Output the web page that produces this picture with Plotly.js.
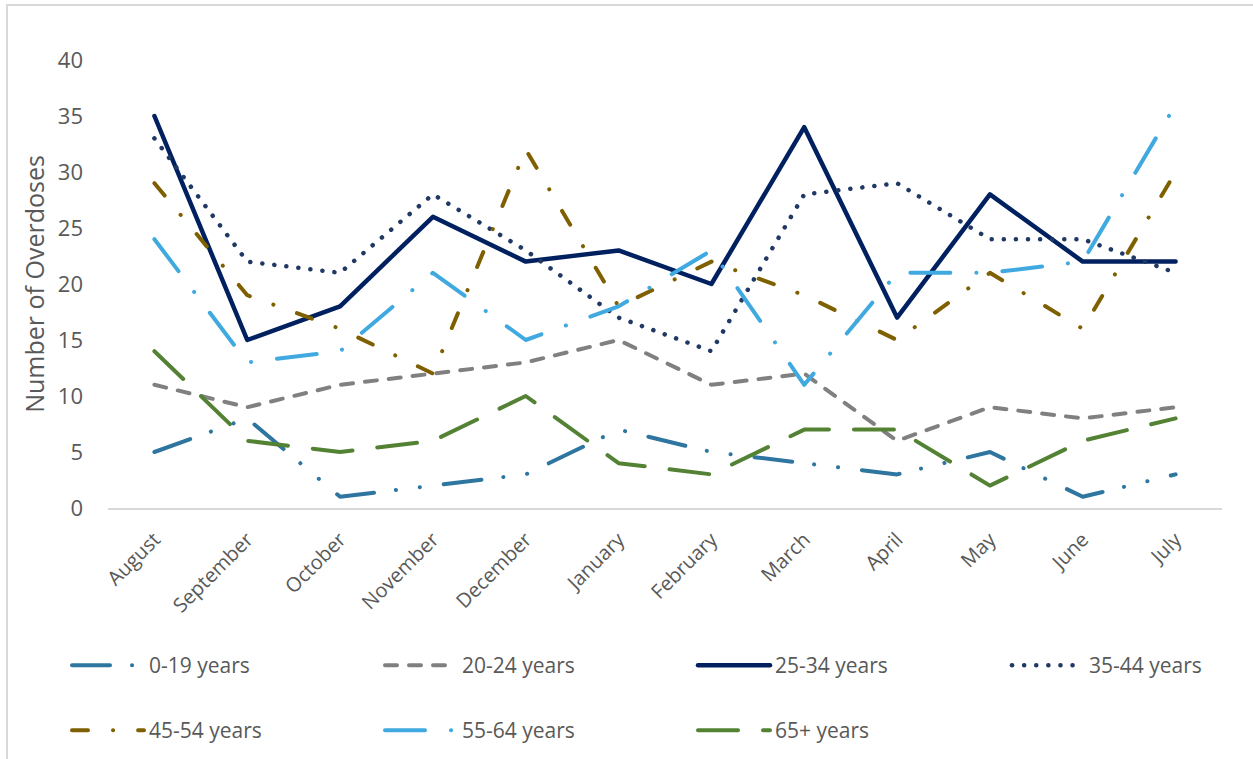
<!DOCTYPE html>
<html>
<head>
<meta charset="utf-8">
<script src="https://cdn.plot.ly/plotly-3.0.1.min.js"></script>
<style>
  html, body { margin: 0; padding: 0; background: #ffffff; }
  #chart { width: 1253px; height: 759px; }
  #frame { position: absolute; left: 6px; top: 4px; width: 1260px; height: 770px;
           border: 2px solid #d9d9d9; pointer-events: none; box-sizing: border-box; }
  .js-line { stroke-linecap: round; stroke-linejoin: round; }
</style>
</head>
<body>
<div id="chart"></div>
<div id="frame"></div>
<script>
const months = ["August","September","October","November","December","January","February","March","April","May","June","July"];

const seriesNames = ["0-19 years","20-24 years","25-34 years","35-44 years","45-54 years","55-64 years","65+ years"];

const age0to19  = [5, 8, 1, 2, 3, 7, 5, 4, 3, 5, 1, 3];
const age20to24 = [11, 9, 11, 12, 13, 15, 11, 12, 6, 9, 8, 9];
const age25to34 = [35, 15, 18, 26, 22, 23, 20, 34, 17, 28, 22, 22];
const age35to44 = [33, 22, 21, 28, 23, 17, 14, 28, 29, 24, 24, 21];
const age45to54 = [29, 19, 16, 12, 32, 18, 22, 19, 15, 21, 16, 30];
const age55to64 = [24, 13, 14, 21, 15, 18, 23, 11, 21, 21, 22, 36];
const age65plus = [14, 6, 5, 6, 10, 4, 3, 7, 7, 2, 6, 8];

const yTicks = [0, 5, 10, 15, 20, 25, 30, 35, 40];

const seriesValues = [age0to19, age20to24, age25to34, age35to44, age45to54, age55to64, age65plus];
const seriesColors = ["#2E75A0", "#808080", "#002060", "#203864", "#7F6000", "#3FA9E0", "#548235"];
const seriesDash = [
  "38px,22px,0.1px,24px,0.1px,24px",
  "12px,12px",
  "solid",
  "0.1px,12px",
  "16px,25px,0.1px,25px",
  "40px,26px,0.1px,26px",
  "40px,25px"
];
const seriesWidth = [4, 4, 4.5, 4.5, 4, 4, 4];
// which legend box each series belongs to (layout of the reference legend)
const seriesLegend = ["legend", "legend", "legend", "legend3", "legend2", "legend2", "legend2"];

const traces = seriesNames.map((name, i) => ({
  type: "scatter",
  mode: "lines",
  name: name,
  x: months,
  y: seriesValues[i],
  line: { color: seriesColors[i], width: seriesWidth[i], dash: seriesDash[i] },
  legend: seriesLegend[i],
  hoverinfo: "skip"
}));

const legendCommon = {
  orientation: "h",
  xref: "container",
  yref: "container",
  xanchor: "left",
  yanchor: "top",
  font: { family: "Open Sans, sans-serif", size: 21, color: "#595959" },
  itemwidth: 72,
  entrywidth: 226,
  entrywidthmode: "pixels",
  bgcolor: "rgba(0,0,0,0)",
  traceorder: "normal"
};

const layout = {
  width: 1253,
  height: 759,
  paper_bgcolor: "#ffffff",
  plot_bgcolor: "#ffffff",
  margin: { l: 108, r: 31, t: 60, b: 251 },
  showlegend: true,
  font: { family: "Open Sans, sans-serif", color: "#595959" },
  xaxis: {
    type: "category",
    range: [-0.5, 11.5],
    showline: true,
    linecolor: "#d9d9d9",
    linewidth: 2,
    showgrid: false,
    zeroline: false,
    ticks: "",
    tickangle: -45,
    ticklabelstandoff: 10,
    tickfont: { family: "Open Sans, sans-serif", size: 20, color: "#595959" }
  },
  yaxis: {
    range: [0, 40],
    tickvals: yTicks,
    ticktext: yTicks.map(String),
    showline: false,
    showgrid: false,
    zeroline: false,
    ticks: "",
    ticklabelstandoff: 24,
    tickfont: { family: "Open Sans, sans-serif", size: 22, color: "#595959" },
    title: { text: "Number of Overdoses", font: { family: "Open Sans, sans-serif", size: 25, color: "#595959" }, standoff: 6 }
  },
  legend: Object.assign({}, legendCommon, { x: 67 / 1253, y: 1 - 645 / 759 }),
  legend3: Object.assign({}, legendCommon, { x: 1007 / 1253, y: 1 - 645 / 759 }),
  legend2: Object.assign({}, legendCommon, { x: 67 / 1253, y: 1 - 710 / 759 })
};

Plotly.newPlot("chart", traces, layout, { displayModeBar: false, staticPlot: true });
</script>
</body>
</html>
